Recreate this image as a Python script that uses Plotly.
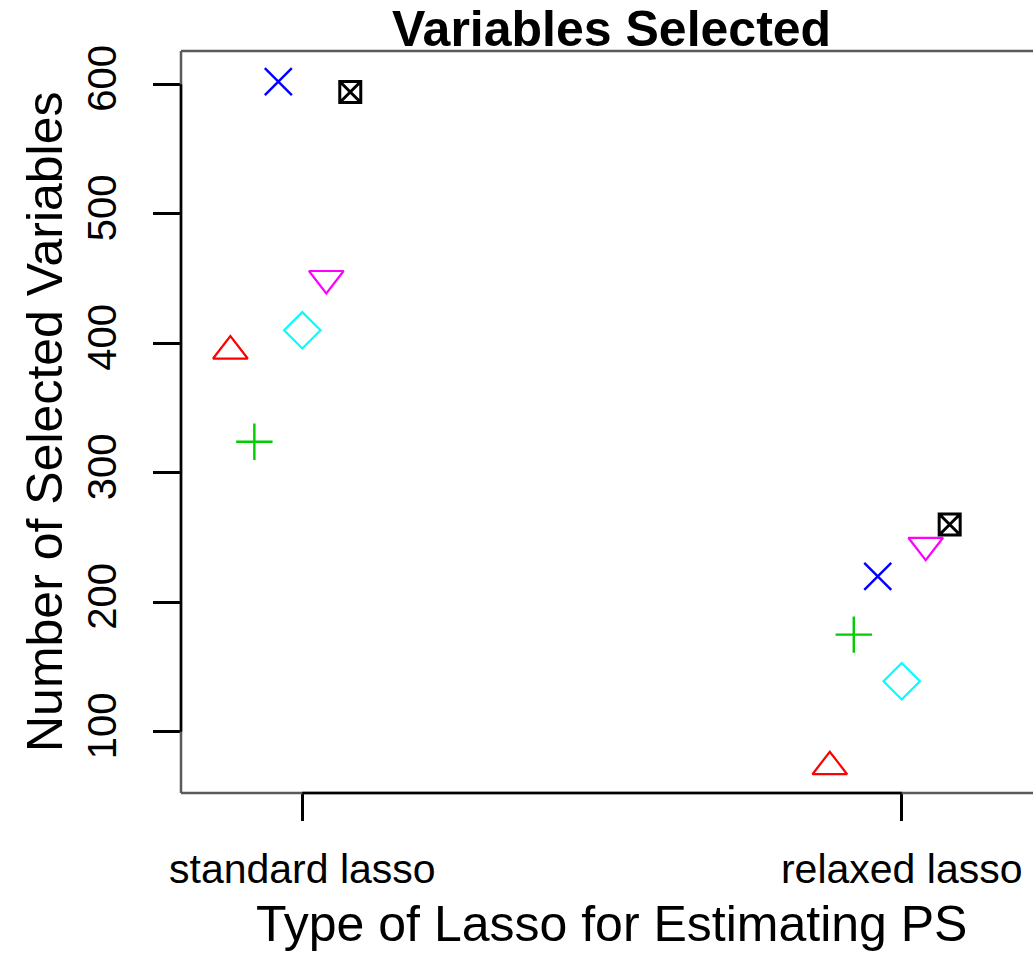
import plotly.graph_objects as go

# ---- data ----
groups = ["standard lasso", "relaxed lasso"]
group_pos = [1, 2]
methods = ["Method 1", "Method 2", "Method 3", "Method 4", "Method 5", "Method 6"]
method_offsets = [-0.12, -0.08, -0.04, 0.0, 0.04, 0.08]
standard_vals = [394, 324, 602, 410, 450, 594]
relaxed_vals = [73, 175, 220, 139, 244, 260]
y_ticks = [100, 200, 300, 400, 500, 600]

# ---- styles ----
colors = ["#FF0000", "#00CD00", "#0000FF", "#00FFFF", "#FF00FF", "#000000"]
symbols = ["triangle-up-open", "cross-thin-open", "x-thin-open",
           "diamond-open", "triangle-down-open", "square-x-open"]
sizes = [30, 26, 27, 28, 30, 21]
widths = [2.2, 2.4, 2.4, 2.2, 2.2, 3]

FONT = "Liberation Sans, Arial, Helvetica, sans-serif"
W, H = 1033, 953
ML, MT, MB, MR = 181, 51, 160, 0
PW, PH = W - ML - MR, H - MT - MB

x_range = [0.7976, 2.219]
y_range = [52.7, 625.7]

fig = go.Figure()
for i, m in enumerate(methods):
    fig.add_trace(go.Scatter(
        x=[g + method_offsets[i] for g in group_pos],
        y=[standard_vals[i], relaxed_vals[i]],
        mode="markers",
        name=m,
        showlegend=False,
        marker=dict(symbol=symbols[i], size=sizes[i], color=colors[i],
                    line=dict(color=colors[i], width=widths[i])),
    ))

def px_x(px):
    return (px - ML) / PW

def px_y(py):
    return (H - MB - py) / PH

def data_to_paper_x(v):
    return (v - x_range[0]) / (x_range[1] - x_range[0])

def data_to_paper_y(v):
    return (v - y_range[0]) / (y_range[1] - y_range[0])

box_col = "#5a5a5a"
shapes = [
    dict(type="line", xref="paper", yref="paper", x0=0, x1=0, y0=0, y1=1,
         line=dict(color=box_col, width=2.5)),
    dict(type="line", xref="paper", yref="paper", x0=0, x1=1.02, y0=1, y1=1,
         line=dict(color=box_col, width=2.5)),
    dict(type="line", xref="paper", yref="paper", x0=0, x1=1.02, y0=0, y1=0,
         line=dict(color=box_col, width=2.5)),
    # axis lines between extreme ticks
    dict(type="line", xref="paper", yref="paper",
         x0=data_to_paper_x(group_pos[0]), x1=data_to_paper_x(group_pos[-1]),
         y0=0, y1=0, line=dict(color="black", width=2.5)),
    dict(type="line", xref="paper", yref="paper", x0=0, x1=0,
         y0=data_to_paper_y(y_ticks[0]), y1=data_to_paper_y(y_ticks[-1]),
         line=dict(color="black", width=2.5)),
]

annotations = [
    dict(text="<b>Variables Selected</b>", xref="paper", yref="paper",
         x=px_x(611), y=px_y(29), xanchor="center", yanchor="middle",
         showarrow=False, font=dict(family=FONT, size=50, color="black")),
    dict(text="Type of Lasso for Estimating PS", xref="paper", yref="paper",
         x=px_x(611), y=px_y(924), xanchor="center", yanchor="middle",
         showarrow=False, font=dict(family=FONT, size=50, color="black")),
    dict(text="Number of Selected Variables", xref="paper", yref="paper",
         x=px_x(45), y=px_y(422), xanchor="center", yanchor="middle",
         textangle=-90, showarrow=False,
         font=dict(family=FONT, size=50, color="black")),
]

fig.update_layout(
    width=W, height=H,
    margin=dict(l=ML, r=MR, t=MT, b=MB, pad=0),
    paper_bgcolor="white", plot_bgcolor="white",
    shapes=shapes, annotations=annotations,
    xaxis=dict(range=x_range, tickvals=group_pos, ticktext=groups,
               showgrid=False, zeroline=False, showline=False,
               ticks="outside", ticklen=27, tickwidth=2.5, tickcolor="black",
               tickfont=dict(family=FONT, size=41, color="black"),
               ticklabelstandoff=13),
    yaxis=dict(range=y_range, tickvals=y_ticks,
               showgrid=False, zeroline=False, showline=False,
               ticks="outside", ticklen=27, tickwidth=2.5, tickcolor="black",
               tickangle=-90,
               tickfont=dict(family=FONT, size=40, color="black"),
               ticklabelstandoff=21),
)

fig.write_html("out.html")
